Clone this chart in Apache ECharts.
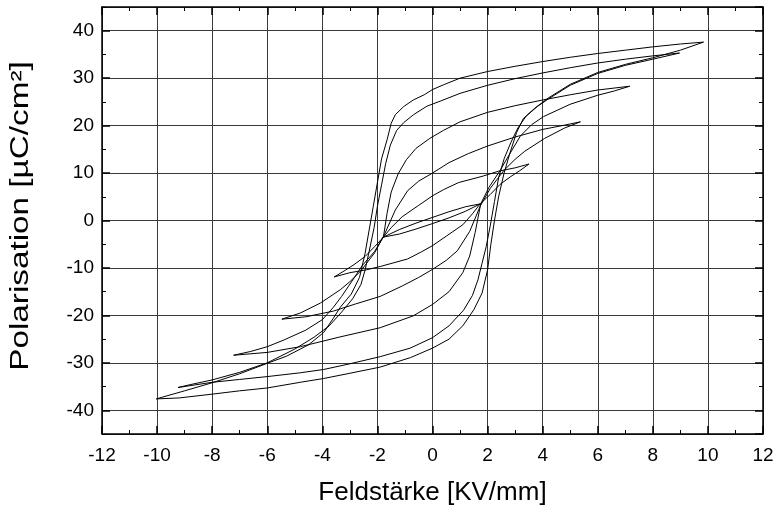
<!DOCTYPE html>
<html><head><meta charset="utf-8">
<script src="https://cdn.jsdelivr.net/npm/echarts@6/dist/echarts.min.js"></script>
<style>html,body{margin:0;padding:0;background:#fff}#c{width:778px;height:511px}</style>
</head><body><div id="c"></div>
<script>
// Axis ranges
const xMin = -12, xMax = 12, xStep = 2;
const yMin = -45, yMax = 45;
const xTitle = 'Feldstärke [KV/mm]';
const yTitle = 'Polarisation [µC/cm²]';

// Loop 0 (smallest lens)
const loop0Upper = [[1.73,3.5],[1.2,2.9],[0.6,1.85],[0,0.65],[-0.6,-0.55],[-1.2,-1.9],[-1.78,-3.5]];
const loop0Lower = [[-1.78,-3.5],[-1.2,-2.85],[-0.6,-1.8],[0,-0.65],[0.6,0.55],[1.2,1.95],[1.73,3.5]];
// Loop 1
const loop1Upper = [[3.5,11.9],[3.0,11.1],[2.4,10.4],[1.8,9.3],[0.95,8.0],[0.4,6.5],[0,5.2],[-0.5,3.2],[-1.1,0.8],[-1.5,-1.5],[-1.78,-3.5],[-2.1,-5.5],[-2.45,-7.6],[-2.85,-9.3],[-3.17,-10.5],[-3.57,-11.9]];
const loop1Lower = [[-3.57,-11.9],[-3.0,-11.0],[-2.4,-10.4],[-1.9,-9.7],[-0.9,-8.1],[-0.4,-6.6],[0,-5.3],[0.5,-3.3],[1.1,-0.9],[1.45,1.4],[1.73,3.5],[2.1,5.5],[2.45,7.6],[2.85,9.3],[3.17,10.5],[3.5,11.9]];
// Loop 2
const loop2Upper = [[5.37,20.8],[4.8,20.1],[4.0,19.2],[3.0,17.6],[2.0,15.7],[1.3,14.1],[0.6,12.2],[0,10.0],[-0.5,8.3],[-0.9,6.3],[-1.35,2.2],[-1.75,-3.0],[-2.1,-6.8],[-2.6,-10.6],[-3.0,-12.9],[-3.35,-14.6],[-4.07,-17.4],[-4.8,-19.5],[-5.47,-20.8]];
const loop2Lower = [[-5.47,-20.8],[-4.6,-20.3],[-3.6,-19.1],[-2.8,-17.6],[-1.9,-16.0],[-1.1,-13.8],[-0.5,-12.0],[0,-10.3],[0.5,-8.4],[0.9,-6.4],[1.35,-2.3],[1.73,3.0],[2.1,6.8],[2.6,10.6],[3.0,12.9],[3.35,14.6],[4.07,17.3],[4.8,19.5],[5.37,20.8]];
// Loop 3
const loop3Upper = [[7.16,28.3],[6.0,27.5],[5.0,26.5],[4.0,25.4],[3.0,24.2],[2.0,22.8],[1.0,20.8],[0.4,19.0],[-0.1,17.3],[-0.6,15.2],[-0.95,12.8],[-1.25,9.8],[-1.5,6.0],[-1.65,1.5],[-1.78,-3.4],[-2.1,-6.5],[-2.55,-9.5],[-2.95,-13.0],[-3.3,-16.0],[-3.6,-18.3],[-4.0,-20.9],[-4.6,-23.1],[-5.4,-25.2],[-6.0,-26.6],[-6.6,-27.6],[-7.22,-28.4]];
const loop3Lower = [[-7.22,-28.4],[-6.0,-27.8],[-4.8,-26.6],[-3.4,-24.6],[-1.9,-22.6],[-0.7,-20.1],[0,-17.7],[0.6,-15.0],[1.1,-11.0],[1.35,-7.5],[1.55,-2.5],[1.75,3.5],[2.05,7.0],[2.45,10.5],[2.8,14.0],[3.19,17.8],[3.6,20.2],[4.03,21.9],[5.0,24.5],[6.0,26.4],[6.6,27.3],[7.16,28.3]];
// Loop 4
const loop4Upper = [[8.97,35.3],[8.0,34.7],[7.0,34.0],[6.0,33.2],[5.0,32.2],[4.0,31.1],[3.0,29.9],[2.0,28.5],[1.0,26.8],[0.3,25.2],[-0.2,24.1],[-0.69,22.3],[-1.05,20.6],[-1.3,19.0],[-1.53,15.9],[-1.7,12.0],[-1.85,7.5],[-2.0,3.0],[-2.12,-1.5],[-2.3,-6.5],[-2.45,-10.5],[-2.6,-13.5],[-2.9,-16.5],[-3.3,-19.3],[-3.75,-22.2],[-4.3,-24.6],[-5.0,-27.1],[-6.0,-30.0],[-7.0,-32.0],[-8.0,-33.6],[-8.8,-34.6],[-9.24,-35.2]];
const loop4Lower = [[-9.24,-35.2],[-8.0,-34.1],[-7.0,-33.5],[-6.0,-32.9],[-4.8,-32.1],[-3.95,-31.4],[-3.0,-30.2],[-1.9,-28.7],[-0.81,-26.9],[0,-24.7],[0.6,-22.2],[1.13,-18.9],[1.45,-15.8],[1.65,-12.5],[1.8,-9.0],[1.95,-5.5],[2.1,-1.0],[2.25,4.0],[2.4,9.0],[2.6,13.0],[2.85,16.5],[3.1,19.5],[3.4,22.0],[3.8,24.0],[4.2,25.6],[5.0,28.5],[6.0,31.0],[7.0,32.7],[8.0,34.0],[8.97,35.3]];
// Loop 5 (largest)
const loop5Upper = [[9.84,37.6],[9.0,37.2],[8.0,36.6],[7.0,35.9],[6.0,35.2],[5.0,34.4],[4.0,33.5],[3.0,32.5],[2.0,31.4],[1.0,30.0],[0.4,28.6],[0,27.6],[-0.3,26.5],[-0.7,25.4],[-1.05,24.0],[-1.35,22.3],[-1.5,20.5],[-1.65,17.0],[-1.85,13.0],[-2.0,8.0],[-2.15,3.0],[-2.3,-2.0],[-2.45,-7.0],[-2.65,-12.0],[-2.95,-15.5],[-3.35,-18.3],[-3.6,-20.6],[-3.95,-23.6],[-4.5,-26.2],[-5.3,-28.6],[-6.0,-30.1],[-7.0,-32.3],[-8.0,-34.2],[-9.0,-35.9],[-10.03,-37.6]];
const loop5Lower = [[-10.03,-37.6],[-9.2,-37.4],[-8.0,-36.6],[-7.0,-35.9],[-6.0,-35.3],[-4.8,-34.1],[-3.95,-33.3],[-3.0,-32.2],[-1.9,-30.9],[-0.8,-28.9],[0,-26.9],[0.6,-25.0],[1.1,-22.2],[1.5,-18.8],[1.8,-15.3],[2.0,-10.4],[2.12,-5.0],[2.25,0],[2.4,5.0],[2.6,10.0],[2.8,14.0],[3.05,18.5],[3.3,21.5],[3.7,23.6],[4.2,25.8],[5.0,28.7],[6.0,31.2],[7.0,32.9],[8.0,34.3],[9.0,35.9],[9.84,37.6]];

const loops = [
  [loop0Upper, loop0Lower],
  [loop1Upper, loop1Lower],
  [loop2Upper, loop2Lower],
  [loop3Upper, loop3Lower],
  [loop4Upper, loop4Lower],
  [loop5Upper, loop5Lower]
];

const font = 'Liberation Sans, Arial, Helvetica, sans-serif';
const chart = echarts.init(document.getElementById('c'), null, {renderer: 'canvas'});

const borderLine = {show: true, onZero: false, lineStyle: {color: '#000', width: 1.5}};
const noLine = {show: false, onZero: false};
const gridLine = {show: true, lineStyle: {color: '#3a3a3a', width: 1}};

chart.setOption({
  animation: false,
  backgroundColor: '#fff',
  grid: {left: 102, right: 15, top: 7, bottom: 77, containLabel: false},
  graphic: [{
    type: 'text', x: 21, y: 216, rotation: Math.PI / 2, scaleX: 1.28, scaleY: 1,
    silent: true,
    style: {text: yTitle, fill: '#000', font: '26px ' + font, textAlign: 'center', textVerticalAlign: 'middle'}
  }],
  xAxis: [
    {type: 'value', position: 'bottom', min: xMin, max: xMax, interval: xStep,
     axisLine: borderLine,
     axisTick: {show: true, inside: true, length: 8, lineStyle: {color: '#000', width: 1.5}},
     minorTick: {show: true, splitNumber: 2, length: 4, lineStyle: {color: '#000', width: 1}},
     axisLabel: {show: true, color: '#000', fontFamily: font, fontSize: 19, margin: 12},
     splitLine: gridLine,
     name: xTitle, nameLocation: 'middle', nameGap: 46,
     nameTextStyle: {color: '#000', fontFamily: font, fontSize: 26}},
    {type: 'value', position: 'top', min: xMin, max: xMax, interval: xStep,
     axisLine: borderLine,
     axisTick: {show: true, inside: true, length: 8, lineStyle: {color: '#000', width: 1.5}},
     minorTick: {show: true, splitNumber: 2, length: 4, lineStyle: {color: '#000', width: 1}},
     axisLabel: {show: false}, splitLine: {show: false}}
  ],
  yAxis: [
    {type: 'value', position: 'left', min: yMin, max: yMax, splitNumber: 9,
     axisLine: borderLine,
     axisTick: {show: true, inside: true, length: 8, lineStyle: {color: '#000', width: 1.5}},
     axisLabel: {show: true, color: '#000', fontFamily: font, fontSize: 19, margin: 8,
                 showMinLabel: false, showMaxLabel: false},
     splitLine: gridLine},
    {type: 'value', position: 'right', min: yMin, max: yMax, splitNumber: 9,
     axisLine: borderLine,
     axisTick: {show: true, inside: true, length: 8, lineStyle: {color: '#000', width: 1.5}},
     axisLabel: {show: false}, splitLine: {show: false}},
    {type: 'value', position: 'left', min: yMin, max: yMax, interval: 10,
     axisLine: noLine,
     axisTick: {show: true, inside: true, length: 4, lineStyle: {color: '#000', width: 1}},
     axisLabel: {show: false}, splitLine: {show: false}},
    {type: 'value', position: 'right', min: yMin, max: yMax, interval: 10,
     axisLine: noLine,
     axisTick: {show: true, inside: true, length: 4, lineStyle: {color: '#000', width: 1}},
     axisLabel: {show: false}, splitLine: {show: false}}
  ],
  series: loops.map(function (lp, i) {
    return {
      name: 'Loop ' + (i + 1), type: 'line', xAxisIndex: 0, yAxisIndex: 0,
      data: lp[0].concat(lp[1]), showSymbol: false, symbol: 'none', silent: true,
      lineStyle: {color: '#000', width: 1}, z: 3
    };
  })
});
</script>
</body></html>
